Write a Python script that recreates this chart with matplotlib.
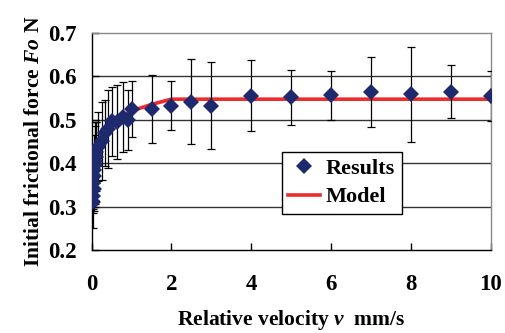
import matplotlib
matplotlib.use("Agg")
import matplotlib.pyplot as plt
from matplotlib.lines import Line2D

plt.rcParams['font.family'] = ['Liberation Serif', 'DejaVu Serif']
plt.rcParams['font.weight'] = 'bold'
plt.rcParams['mathtext.fontset'] = 'custom'
plt.rcParams['mathtext.rm'] = 'Liberation Serif:bold'
plt.rcParams['mathtext.it'] = 'Liberation Serif:italic:bold'
plt.rcParams['mathtext.bf'] = 'Liberation Serif:bold'

# Measured results (relative velocity mm/s, initial frictional force N, error)
results_v = [0.02, 0.03, 0.05, 0.04, 0.06, 0.05, 0.08, 0.07, 0.10, 0.12,
             0.17, 0.25, 0.33, 0.42, 0.50, 0.63, 0.79, 0.92, 1.0, 1.5,
             2.0, 2.5, 3.0, 4.0, 5.0, 6.0, 7.0, 8.0, 9.0, 10.0]
results_f = [0.310, 0.325, 0.340, 0.355, 0.370, 0.385, 0.395, 0.405, 0.415, 0.425,
             0.438, 0.450, 0.469, 0.478, 0.496, 0.494, 0.506, 0.499, 0.524, 0.524,
             0.532, 0.541, 0.532, 0.555, 0.551, 0.556, 0.563, 0.558, 0.564, 0.554]
results_err = [0.060, 0.040, 0.050, 0.060, 0.070, 0.080, 0.090, 0.090, 0.080, 0.070,
               0.080, 0.090, 0.075, 0.090, 0.080, 0.085, 0.080, 0.070, 0.065, 0.078,
               0.057, 0.098, 0.100, 0.081, 0.063, 0.056, 0.080, 0.109, 0.061, 0.057]

# Model curve
model_v = [0.0, 0.02, 0.05, 0.1, 0.15, 0.2, 0.3, 0.4, 0.5, 0.7, 0.9, 1.2, 1.5, 2.0, 10.0]
model_f = [0.300, 0.340, 0.380, 0.410, 0.426, 0.440, 0.458, 0.472, 0.483, 0.500,
           0.515, 0.526, 0.535, 0.547, 0.547]

x_ticks = [0, 2, 4, 6, 8, 10]
y_ticks = [0.2, 0.3, 0.4, 0.5, 0.6, 0.7]

navy = '#1F2A6E'
red = '#EE2B2B'

fig = plt.figure(figsize=(5.05, 3.33), dpi=100)
ax = fig.add_axes([0.1816, 0.249, 0.790, 0.653])

ax.plot(model_v, model_f, color=red, lw=2.6, zorder=2, solid_capstyle='butt')
ax.errorbar(results_v, results_f, yerr=results_err, fmt='none', ecolor='black',
            elinewidth=0.9, capsize=3.2, capthick=0.9, zorder=3)
ax.plot(results_v, results_f, 'D', color=navy, markersize=8, markeredgewidth=0,
        zorder=4)

ax.set_xlim(0, 10)
ax.set_ylim(0.2, 0.7)
ax.set_xticks(x_ticks)
ax.set_yticks(y_ticks)
ax.set_xticklabels([str(t) for t in x_ticks])
ax.set_yticklabels([f"{t:.1f}" for t in y_ticks])
ax.tick_params(axis='both', direction='in', length=5, width=1, labelsize=16.5)
ax.tick_params(axis='x', pad=17)
ax.tick_params(axis='y', pad=11)

for yv in [0.3, 0.4, 0.5, 0.6]:
    ax.axhline(yv, color='#333333', lw=1.0, zorder=1)

ax.spines['left'].set_color('black')
ax.spines['bottom'].set_color('black')
ax.spines['top'].set_color('#888888')
ax.spines['right'].set_color('#888888')
for s in ax.spines.values():
    s.set_linewidth(1.0)

ax.set_xlabel(r'Relative velocity $\mathit{v}$  mm/s', fontsize=15.5, fontweight='bold',
              labelpad=9.5)
ax.set_ylabel(r'Initial frictional force $\mathit{Fo}$ N', fontsize=15.5,
              fontweight='bold', labelpad=3)

handles = [Line2D([], [], marker='D', color=navy, ls='none', markersize=8, markeredgewidth=0),
           Line2D([], [], color=red, lw=2.6)]
leg = ax.legend(handles, ['Results', 'Model'], loc='lower left',
                bbox_to_anchor=(0.476, 0.166), borderaxespad=0, fancybox=False,
                framealpha=1, edgecolor='black', prop={'size': 16, 'weight': 'bold'},
                handlelength=1.45, handletextpad=0.25, borderpad=0.3, labelspacing=0.35)
leg.get_frame().set_linewidth(1.0)

fig.savefig('out.png', dpi=100)
